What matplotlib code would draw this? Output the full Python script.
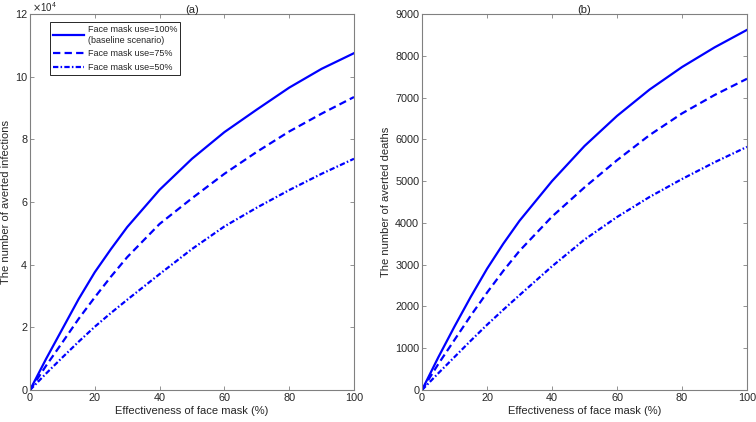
import matplotlib.pyplot as plt
import numpy as np

# effectiveness of face mask (%)
eff = [0, 5, 10, 15, 20, 25, 30, 40, 50, 60, 70, 80, 90, 100]

# (a) averted infections, in units of 1e4
inf_100 = [0, 1.0, 1.95, 2.9, 3.76, 4.5, 5.2, 6.39, 7.38, 8.23, 8.95, 9.65, 10.25, 10.75]
inf_75 = [0, 0.78, 1.52, 2.27, 2.96, 3.62, 4.24, 5.3, 6.12, 6.9, 7.6, 8.25, 8.82, 9.35]
inf_50 = [0, 0.53, 1.04, 1.54, 2.02, 2.46, 2.88, 3.7, 4.5, 5.22, 5.82, 6.38, 6.9, 7.38]

# (b) averted deaths
dth_100 = [0, 780, 1520, 2230, 2900, 3500, 4050, 5000, 5840, 6560, 7190, 7730, 8200, 8620]
dth_75 = [0, 620, 1200, 1780, 2330, 2850, 3330, 4150, 4850, 5500, 6100, 6620, 7060, 7450]
dth_50 = [0, 400, 790, 1180, 1560, 1920, 2270, 2960, 3600, 4140, 4620, 5050, 5450, 5820]

labels = ['Face mask use=100%\n(baseline scenario)', 'Face mask use=75%', 'Face mask use=50%']

plt.rcParams.update({
    'font.family': 'Liberation Sans',
    'font.size': 8,
    'text.color': '#262626',
    'axes.labelcolor': '#262626',
    'xtick.color': '#262626',
    'ytick.color': '#262626',
})

fig = plt.figure(figsize=(7.56, 4.22), dpi=100)
ax1 = fig.add_axes([30 / 756, 32 / 422, 324 / 756, 376 / 422])
ax2 = fig.add_axes([422 / 756, 32 / 422, 325 / 756, 376 / 422])

blue = '#0000ff'
styles = [dict(linestyle='-'),
          dict(linestyle=(0, (3.3, 1.9))),
          dict(linestyle=(0, (2.4, 1.0, 0.7, 1.0)))]

for ax, series in [(ax1, [inf_100, inf_75, inf_50]), (ax2, [dth_100, dth_75, dth_50])]:
    for ys, st, lab in zip(series, styles, labels):
        ax.plot(eff, ys, color=blue, linewidth=1.6, label=lab, **st)
    ax.set_xlim(0, 100)
    ax.set_xticks(np.arange(0, 101, 20))
    ax.tick_params(direction='in', top=True, right=True, length=3, width=0.6,
                   color='#808080', labelsize=7.8, pad=2)
    for sp in ax.spines.values():
        sp.set_color('#808080')
        sp.set_linewidth(0.8)
    ax.set_xlabel('Effectiveness of face mask (%)', fontsize=8, labelpad=2)

ax1.set_ylim(0, 12)
ax1.set_yticks(np.arange(0, 13, 2))
ax1.set_ylabel('The number of averted infections', fontsize=8, labelpad=3)
ax1.set_title('(a)', fontsize=8, pad=1)
ax1.text(0.005, 1.0, r'$\times\mathregular{10^{4}}$', transform=ax1.transAxes,
         fontsize=7, ha='left', va='bottom')

ax2.set_ylim(0, 9000)
ax2.set_yticks(np.arange(0, 9001, 1000))
ax2.set_ylabel('The number of averted deaths', fontsize=8, labelpad=3)
ax2.set_title('(b)', fontsize=8, pad=1)

leg = ax1.legend(loc='upper left', bbox_to_anchor=(0.062, 0.978), fontsize=6.5,
                 fancybox=False, framealpha=1, edgecolor='#262626',
                 handlelength=3.4, handletextpad=0.4, borderpad=0.35,
                 labelspacing=0.5, borderaxespad=0)
leg.get_frame().set_linewidth(0.7)

fig.savefig('out.png', dpi=100)
